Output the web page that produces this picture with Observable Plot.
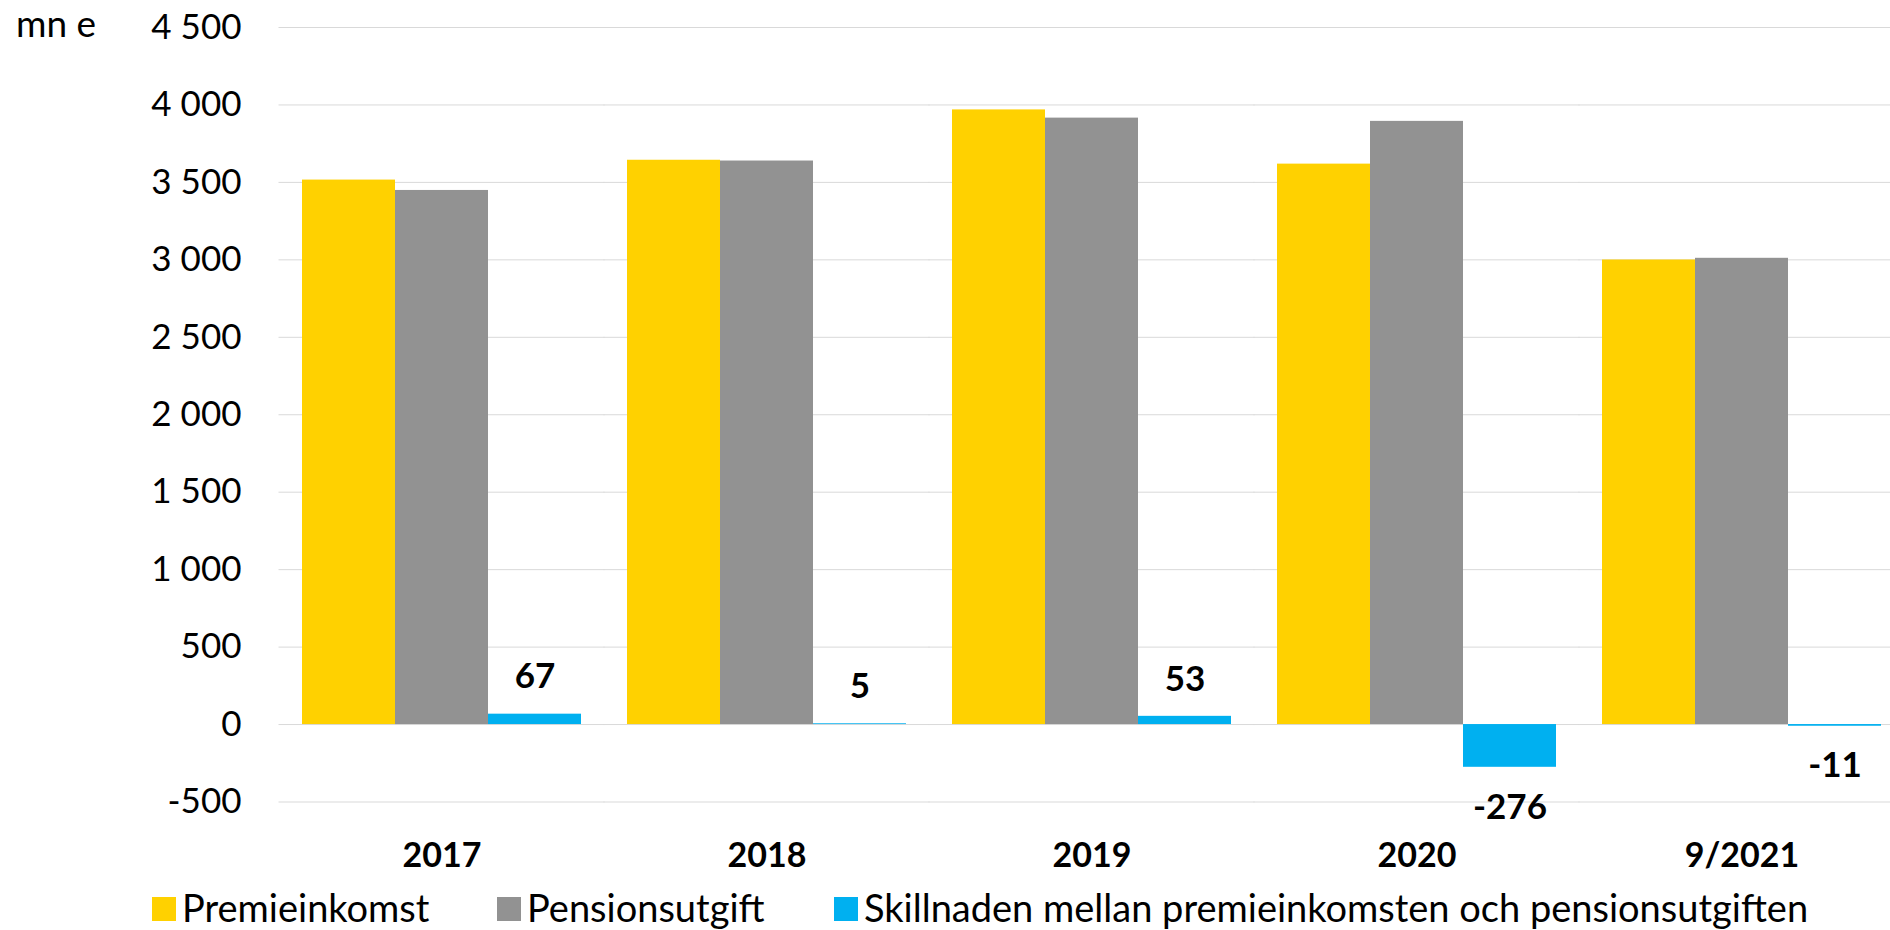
<!DOCTYPE html>
<html><head><meta charset="utf-8">
<script src="https://cdn.jsdelivr.net/npm/d3@7"></script>
<script src="https://cdn.jsdelivr.net/npm/@observablehq/plot@0.6"></script>
<style>
body{margin:0;background:#fff;font-family:Lato,sans-serif;}
#wrap{position:relative;width:1890px;height:930px;overflow:hidden;background:#fff;}
#unit{position:absolute;left:16px;top:0px;font-size:37px;color:#000;font-family:Lato;z-index:2;}
.item{position:absolute;top:885px;height:44px;display:flex;align-items:center;font-size:38px;color:#000;white-space:nowrap;font-family:Lato;z-index:2;}
.sw{width:24px;height:24px;margin-right:6px;margin-top:4px;}
</style></head><body><div id="wrap"><div id="unit">mn e</div></div>
<script>
const years = ["2017", "2018", "2019", "2020", "9/2021"];
const seriesNames = ["Premieinkomst", "Pensionsutgift", "Skillnaden mellan premieinkomsten och pensionsutgiften"];
const premieinkomst = [3515, 3643, 3968, 3618, 2999];
const pensionsutgift = [3448, 3638, 3915, 3894, 3010];
const skillnad = [67, 5, 53, -276, -11];
const yTicks = [-500, 0, 500, 1000, 1500, 2000, 2500, 3000, 3500, 4000, 4500];
const colors = ["#FFD100", "#929292", "#00B0F0"];

const rows = years.flatMap((yr, i) => [
  {year: yr, series: seriesNames[0], value: premieinkomst[i]},
  {year: yr, series: seriesNames[1], value: pensionsutgift[i]},
  {year: yr, series: seriesNames[2], value: skillnad[i]}
]);
const diffRows = rows.filter(d => d.series === seriesNames[2]);
const fmt = d => String(d).replace(/\B(?=(\d{3})+(?!\d))/g, " ");

const chart = Plot.plot({
  width: 1890, height: 880,
  marginLeft: 278, marginRight: 0, marginTop: 27, marginBottom: 78.5,
  style: {fontFamily: "Lato", fontSize: "35px", color: "#000", background: "#fff", overflow: "hidden"},
  fx: {domain: years, range: [278, 1905.5], paddingInner: 0.1367, paddingOuter: 0.0683, label: null},
  x: {domain: seriesNames, padding: 0, axis: null},
  y: {domain: [-500, 4500], axis: null},
  color: {domain: seriesNames, range: colors},
  marks: [
    Plot.ruleY(yTicks, {stroke: "#D9D9D9", strokeWidth: 1, insetLeft: -22.5, insetRight: -22.5}),
    Plot.barY(rows, {fx: "year", x: "series", y: "value", fill: "series"}),
    Plot.text(diffRows.filter(d => d.value >= 0), {fx: "year", x: "series", y: "value", text: d => String(d.value), dy: -37, lineAnchor: "middle", fontWeight: "bold", fontSize: 35, fill: "#000"}),
    Plot.text(diffRows.filter(d => d.value < 0), {fx: "year", x: "series", y: "value", text: d => String(d.value), dy: 40, lineAnchor: "middle", fontWeight: "bold", fontSize: 35, fill: "#000"}),
    Plot.axisY({ticks: yTicks, tickFormat: fmt, tickSize: 0, tickPadding: 60, label: null}),
    Plot.axisFx({anchor: "bottom", tickSize: 0, tickPadding: 41, fontWeight: "bold", fontSize: 34, label: null})
  ]
});
const wrap = document.getElementById("wrap");
wrap.appendChild(chart);
chart.style.position = "absolute"; chart.style.left = "0"; chart.style.top = "0"; chart.style.zIndex = "1";

const legendLeft = [152, 497, 834];
seriesNames.forEach((name, i) => {
  const it = document.createElement("div");
  it.className = "item";
  it.style.left = legendLeft[i] + "px";
  const sw = document.createElement("span");
  sw.className = "sw"; sw.style.background = colors[i];
  const tx = document.createElement("span");
  tx.textContent = name;
  it.appendChild(sw); it.appendChild(tx);
  wrap.appendChild(it);
});
</script></body></html>
